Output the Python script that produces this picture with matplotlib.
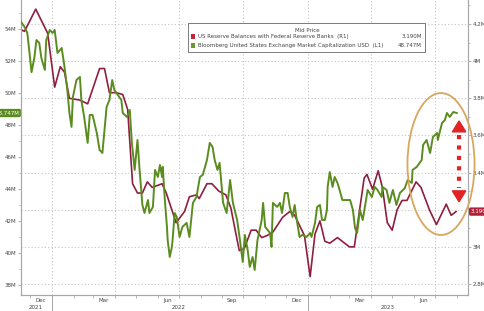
import pandas as pd
import matplotlib.pyplot as plt
import matplotlib.dates as mdates
import matplotlib.transforms as mtransforms
from matplotlib.ticker import MultipleLocator
from matplotlib.patches import Ellipse, Rectangle

# US reserve balances with Federal Reserve Banks (R1, right axis)
red_dates = ['2021-11-18', '2021-11-23', '2021-12-09', '2021-12-26', '2022-01-05', '2022-01-13',
             '2022-01-19', '2022-01-26', '2022-02-10', '2022-02-21', '2022-03-10', '2022-03-17',
             '2022-03-24', '2022-04-03', '2022-04-12', '2022-04-19', '2022-04-26', '2022-05-03',
             '2022-05-10', '2022-05-17', '2022-05-24', '2022-06-07', '2022-06-13', '2022-06-27',
             '2022-07-09', '2022-07-16', '2022-07-26', '2022-07-30', '2022-08-10', '2022-08-17',
             '2022-08-27', '2022-09-06', '2022-09-13', '2022-09-25', '2022-10-02', '2022-10-12',
             '2022-10-19', '2022-10-27', '2022-11-03', '2022-11-12', '2022-11-26', '2022-12-06',
             '2022-12-13', '2022-12-27', '2023-01-04', '2023-01-11', '2023-01-18', '2023-01-25',
             '2023-02-01', '2023-02-12', '2023-03-01', '2023-03-08', '2023-03-22', '2023-03-26',
             '2023-04-03', '2023-04-11', '2023-04-17', '2023-04-24', '2023-05-01', '2023-05-08',
             '2023-05-15', '2023-05-22', '2023-06-04', '2023-06-11', '2023-06-23', '2023-07-03',
             '2023-07-17', '2023-07-24', '2023-07-31']
red_vals = [4.17, 4.16, 4.28, 4.15, 3.86, 3.97, 3.94, 3.80, 3.79, 3.77,
            3.96, 3.96, 3.83, 3.83, 3.82, 3.74, 3.34, 3.29, 3.29, 3.35,
            3.32, 3.34, 3.29, 3.13, 3.19, 3.27, 3.28, 3.26, 3.34, 3.34,
            3.30, 3.28, 3.21, 2.98, 2.99, 3.09, 3.09, 3.05, 3.06, 3.08,
            3.16, 3.19, 3.17, 3.06, 2.84, 3.07, 3.14, 3.03, 3.02, 3.05,
            3.00, 3.00, 3.37, 3.39, 3.31, 3.41, 3.32, 3.13, 3.09, 3.20,
            3.25, 3.25, 3.35, 3.32, 3.20, 3.12, 3.23, 3.17, 3.19]

# Bloomberg US exchange market capitalization (L1, left axis)
green_dates = ['2021-11-18', '2021-11-23', '2021-11-27', '2021-11-30', '2021-12-03', '2021-12-07',
               '2021-12-10', '2021-12-14', '2021-12-17', '2021-12-22', '2021-12-24', '2021-12-29',
               '2022-01-02', '2022-01-05', '2022-01-09', '2022-01-15', '2022-01-19', '2022-01-23',
               '2022-01-26', '2022-01-29', '2022-01-31', '2022-02-05', '2022-02-10', '2022-02-12',
               '2022-02-16', '2022-02-21', '2022-02-24', '2022-02-28', '2022-03-06', '2022-03-10',
               '2022-03-14', '2022-03-20', '2022-03-24', '2022-03-28', '2022-03-31', '2022-04-05',
               '2022-04-10', '2022-04-12', '2022-04-18', '2022-04-22', '2022-04-25', '2022-04-29',
               '2022-05-03', '2022-05-06', '2022-05-10', '2022-05-13', '2022-05-18', '2022-05-20',
               '2022-05-25', '2022-05-28', '2022-06-01', '2022-06-04', '2022-06-07', '2022-06-08',
               '2022-06-11', '2022-06-14', '2022-06-15', '2022-06-18', '2022-06-21', '2022-06-22',
               '2022-06-25', '2022-06-28', '2022-07-02', '2022-07-06', '2022-07-12', '2022-07-16',
               '2022-07-21', '2022-07-26', '2022-07-31', '2022-08-04', '2022-08-10', '2022-08-14',
               '2022-08-18', '2022-08-21', '2022-08-25', '2022-08-28', '2022-09-02', '2022-09-07',
               '2022-09-12', '2022-09-16', '2022-09-22', '2022-09-26', '2022-09-30', '2022-10-03',
               '2022-10-07', '2022-10-10', '2022-10-14', '2022-10-17', '2022-10-21', '2022-10-27',
               '2022-10-29', '2022-11-01', '2022-11-08', '2022-11-10', '2022-11-12', '2022-11-18',
               '2022-11-22', '2022-11-25', '2022-11-29', '2022-12-03', '2022-12-06', '2022-12-10',
               '2022-12-13', '2022-12-16', '2022-12-20', '2022-12-24', '2022-12-30', '2023-01-04',
               '2023-01-06', '2023-01-11', '2023-01-14', '2023-01-18', '2023-01-21', '2023-01-25',
               '2023-01-28', '2023-01-29', '2023-02-01', '2023-02-05', '2023-02-08', '2023-02-12',
               '2023-02-15', '2023-02-19', '2023-02-25', '2023-03-02', '2023-03-06', '2023-03-09',
               '2023-03-12', '2023-03-16', '2023-03-20', '2023-03-23', '2023-03-27', '2023-04-02',
               '2023-04-06', '2023-04-10', '2023-04-16', '2023-04-17', '2023-04-23', '2023-04-27',
               '2023-05-02', '2023-05-07', '2023-05-12', '2023-05-19', '2023-05-23', '2023-05-29',
               '2023-05-30', '2023-06-05', '2023-06-12', '2023-06-14', '2023-06-19', '2023-06-24',
               '2023-06-28', '2023-07-04', '2023-07-05', '2023-07-11', '2023-07-15', '2023-07-18',
               '2023-07-22', '2023-07-27', '2023-08-01']
green_vals = [54.44, 54.13, 53.75, 52.56, 51.30, 52.19, 53.31, 53.13, 52.19, 51.44, 53.31, 53.94,
              53.75, 53.94, 52.50, 52.81, 51.63, 50.19, 48.75, 47.88, 49.75, 50.81, 51.00, 49.56,
              48.50, 46.88, 48.63, 48.63, 47.50, 46.44, 46.25, 49.13, 49.56, 50.81, 50.19, 49.88,
              49.56, 48.75, 48.50, 48.94, 46.88, 45.19, 47.06, 45.19, 43.00, 42.50, 43.31, 42.50,
              42.88, 45.19, 44.75, 45.50, 44.75, 45.38, 43.31, 41.63, 40.81, 39.75, 40.38, 40.81,
              42.50, 42.25, 41.00, 41.63, 41.88, 41.00, 43.13, 43.50, 44.75, 44.88, 45.81, 46.88,
              46.63, 45.81, 45.19, 45.63, 43.13, 42.50, 44.56, 43.13, 42.06, 40.81, 39.44, 41.13,
              40.19, 39.13, 39.75, 38.94, 40.81, 42.06, 43.13, 41.63, 41.25, 40.38, 43.13, 42.88,
              43.13, 42.50, 43.75, 43.75, 42.88, 42.25, 43.00, 42.06, 41.00, 41.13, 41.00, 41.25,
              41.00, 41.88, 42.88, 43.00, 42.06, 42.06, 42.69, 44.13, 45.06, 44.13, 44.75, 44.38,
              43.94, 43.31, 43.31, 43.31, 42.69, 41.56, 41.25, 42.69, 42.06, 42.88, 43.94, 43.50,
              44.13, 43.94, 43.50, 44.13, 43.94, 43.13, 43.94, 43.00, 43.75, 44.06, 44.56, 44.38,
              45.19, 45.38, 45.81, 46.75, 47.06, 46.25, 47.25, 47.50, 47.06, 48.13, 48.31, 48.75,
              48.50, 48.81, 48.747]

left_ticks = [38, 40, 42, 44, 46, 48, 50, 52, 54]
right_ticks = [2.8, 3.0, 3.2, 3.4, 3.6, 3.8, 4.0, 4.2]
month_labels = [('2021-12-16', 'Dec'), ('2022-03-16', 'Mar'), ('2022-06-15', 'Jun'),
                ('2022-09-15', 'Sep'), ('2022-12-16', 'Dec'), ('2023-03-16', 'Mar'),
                ('2023-06-15', 'Jun')]
year_labels = [('2021-12-09', '2021'), ('2022-07-01', '2022'), ('2023-04-24', '2023')]

red = '#8e1f3f'
green = '#5b8c1f'
gray = '#a8a8a8'
txt = '#444444'
fs = 4

plt.rcParams['font.family'] = 'DejaVu Sans'
fig = plt.figure(figsize=(4.85, 3.11), dpi=100)
ax = fig.add_axes([21 / 485, 16 / 311, 447 / 485, 295 / 311])
ax2 = ax.twinx()
ax.set_zorder(ax2.get_zorder() + 1)
ax.patch.set_visible(False)

ax2.plot(pd.to_datetime(red_dates), red_vals, color=red, lw=1.2, zorder=3)
ax.plot(pd.to_datetime(green_dates), green_vals, color=green, lw=1.4, zorder=3)

ax.set_xlim(pd.Timestamp('2021-11-18'), pd.Timestamp('2023-08-17'))
ax.set_ylim(37.375, 55.81)
ax2.set_ylim(2.741, 4.329)

# grid
ax2.grid(axis='y', which='major', color='#c4c4c4', linestyle=(0, (1, 2)), lw=0.8)
for d in pd.date_range('2022-01-01', '2023-07-01', freq='QS'):
    ax2.axvline(d, color='#c4c4c4', linestyle=(0, (1, 2)), lw=0.8, zorder=0)

for a in (ax, ax2):
    a.spines['top'].set_visible(False)
    for s in ('left', 'right', 'bottom'):
        a.spines[s].set_color(gray)
        a.spines[s].set_linewidth(0.8)

ax.xaxis.set_major_locator(mdates.MonthLocator(bymonth=[1, 4, 7, 10]))
ax.xaxis.set_minor_locator(mdates.MonthLocator())
ax.tick_params(axis='x', which='both', length=2, width=0.6, color=gray, labelbottom=False)

ax.set_yticks(left_ticks)
ax.set_yticklabels([f'{v}M' for v in left_ticks])
ax.yaxis.set_minor_locator(MultipleLocator(1))
ax.tick_params(axis='y', which='major', length=2.2, width=0.6, color=gray, labelsize=fs,
               labelcolor=txt, pad=1)
ax.tick_params(axis='y', which='minor', length=1.3, width=0.5, color=gray)

# the 3.2M label sits under the last-value tag, so it is left blank
ax2.set_yticks(right_ticks)
ax2.set_yticklabels(['' if v == 3.2 else f'{v:g}M' for v in right_ticks])
ax2.yaxis.set_minor_locator(MultipleLocator(0.1))
ax2.tick_params(axis='y', which='major', length=2.2, width=0.6, color=gray, labelsize=fs,
                labelcolor=txt, pad=1)
ax2.tick_params(axis='y', which='minor', length=1.3, width=0.5, color=gray)

# date labels under the axis
bt = mtransforms.blended_transform_factory(ax.transData, ax.transAxes)
for d, lab in month_labels:
    ax.text(pd.Timestamp(d), -0.017, lab, transform=bt, ha='center', va='center',
            fontsize=fs, color=txt, clip_on=False)
for d, lab in year_labels:
    ax.text(pd.Timestamp(d), -0.042, lab, transform=bt, ha='center', va='center',
            fontsize=fs, color=txt, clip_on=False)
for d in ['2022-01-01', '2023-01-01']:
    ax.plot([pd.Timestamp(d)] * 2, [0, -0.06], transform=bt, color=gray, lw=0.7, clip_on=False)

# legend box
ax.add_patch(Rectangle((0.3736, 0.8237), 0.5304, 0.0983, transform=ax.transAxes,
                       facecolor='white', edgecolor='#666666', lw=0.6, zorder=6))
ax.text(0.64, 0.897, 'Mid Price', transform=ax.transAxes, ha='center', va='center',
        fontsize=fs, color=txt, zorder=7)
rows = [(0.876, '#c0283c', 'US Reserve Balances with Federal Reserve Banks  (R1)', '3.190M'),
        (0.846, '#6a9a2a', 'Bloomberg United States Exchange Market Capitalization USD  (L1)', '48.747M')]
for y, c, lab, val in rows:
    ax.add_patch(Rectangle((0.381, y - 0.0075), 0.009, 0.015, transform=ax.transAxes,
                           facecolor=c, edgecolor='none', zorder=7))
    ax.text(0.395, y, lab, transform=ax.transAxes, ha='left', va='center',
            fontsize=fs, color=txt, zorder=7)
    ax.text(0.897, y, val, transform=ax.transAxes, ha='right', va='center',
            fontsize=fs, color=txt, zorder=7)

# last value tags (cut off at the figure edges, as in the original)
tl = mtransforms.blended_transform_factory(ax.transAxes, ax.transData)
ax.text(-0.004, green_vals[-1], '48.747M', transform=tl, ha='right', va='center', fontsize=fs,
        color='white', clip_on=False, zorder=8,
        bbox=dict(boxstyle='round,pad=0.3', fc=green, ec='none'))
tr = mtransforms.blended_transform_factory(ax2.transAxes, ax2.transData)
ax2.text(1.006, red_vals[-1], '3.190M', transform=tr, ha='left', va='center', fontsize=fs,
         color='white', clip_on=False, zorder=8,
         bbox=dict(boxstyle='round,pad=0.3', fc='#b02038', ec='none'))

# annotation: ellipse and dashed double arrow
ax.add_patch(Ellipse((0.9396, 0.444), 0.150, 0.481, transform=ax.transAxes, fill=False,
                     edgecolor='#d9a65e', lw=1.3, zorder=5, clip_on=False))
ax.plot([0.98, 0.98], [0.543, 0.362], transform=ax.transAxes, color='#e02424', lw=3.0,
        linestyle=(0, (1, 1.5)), solid_capstyle='butt', zorder=5)
ax.fill([0.98, 0.965, 0.995], [0.590, 0.553, 0.553], transform=ax.transAxes,
        color='#e02424', zorder=5)
ax.fill([0.98, 0.965, 0.995], [0.316, 0.353, 0.353], transform=ax.transAxes,
        color='#e02424', zorder=5)

fig.savefig('out.png', dpi=100)
